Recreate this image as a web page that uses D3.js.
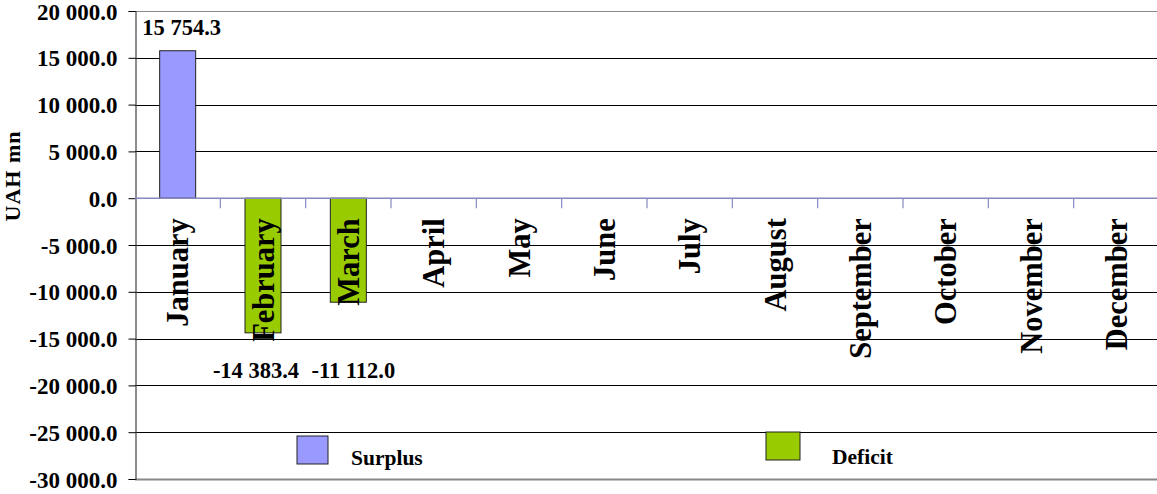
<!DOCTYPE html>
<html>
<head>
<meta charset="utf-8">
<script src="https://cdn.jsdelivr.net/npm/d3@7"></script>
<style>
  html, body { margin: 0; padding: 0; background: #fff; }
  svg { display: block; }
  svg text { font-family: "Liberation Serif", "Times New Roman", "DejaVu Serif", serif !important; font-weight: bold; }
</style>
</head>
<body>
<svg id="chart" width="1157" height="494"></svg>
<script>
const months = ["January","February","March","April","May","June","July","August","September","October","November","December"];
const surplus = [15754.3, null, null, null, null, null, null, null, null, null, null, null];
const deficit = [null, -14383.4, -11112.0, null, null, null, null, null, null, null, null, null];
const yTicks = [20000, 15000, 10000, 5000, 0, -5000, -10000, -15000, -20000, -25000, -30000];
const seriesNames = ["Surplus", "Deficit"];
const seriesColors = ["#9999FF", "#99CC00"];

(function () {
const svg = d3.select("#chart");
const pL = 135, pR = 1159, pT = 11, pB = 479;

const x = d3.scaleBand().domain(months).range([pL, pR]).paddingInner(0).paddingOuter(0);
const y = d3.scaleLinear().domain([-30000, 20000]).range([pB, pT]);

const fmt = v => d3.format(",.1f")(v).replace(/,/g, " ").replace("−", "-");

// gridlines
svg.append("g").selectAll("line").data(yTicks.filter(t => t !== 0))
  .join("line")
  .attr("x1", pL).attr("x2", 1157)
  .attr("y1", d => Math.round(y(d)) + 0.5).attr("y2", d => Math.round(y(d)) + 0.5)
  .attr("stroke", d => (d === 20000 || d === -30000) ? "#888" : "#000")
  .attr("stroke-width", d => d === -30000 ? 2 : 1);

// y axis
const yAxis = d3.axisLeft(y).tickValues(yTicks).tickSize(7).tickFormat(fmt);
const ya = svg.append("g").attr("transform", `translate(${pL + 0.5},0)`).call(yAxis);
ya.select(".domain").attr("stroke", "#444").attr("stroke-width", 1.2);
ya.selectAll(".tick line").attr("stroke", "#000");
ya.selectAll(".tick text").style("font-size", "23px")
  .attr("fill", "#000").attr("x", -18).attr("dy", "0.35em");

// bars
const bw = 36;
const data = [];
months.forEach((m, i) => {
  if (surplus[i] != null) data.push({m, v: surplus[i], s: 0});
  if (deficit[i] != null) data.push({m, v: deficit[i], s: 1});
});
svg.append("g").selectAll("rect").data(data).join("rect")
  .attr("x", d => x(d.m) + x.bandwidth() / 2 - bw / 2)
  .attr("width", bw)
  .attr("y", d => y(Math.max(0, d.v)))
  .attr("height", d => Math.abs(y(d.v) - y(0)))
  .attr("fill", d => seriesColors[d.s])
  .attr("stroke", "#222").attr("stroke-width", 1);

// zero axis line with category ticks
const y0 = y(0);
svg.append("line").attr("x1", pL).attr("x2", 1157).attr("y1", y0).attr("y2", y0)
  .attr("stroke", "#8888c0").attr("stroke-width", 1.5);
svg.append("g").selectAll("line").data(months.slice(1))
  .join("line")
  .attr("x1", d => x(d)).attr("x2", d => x(d))
  .attr("y1", y0).attr("y2", y0 + 10)
  .attr("stroke", "#8888c0").attr("stroke-width", 1.2);

// month labels (rotated)
svg.append("g").selectAll("text").data(months).join("text")
  .attr("transform", d => `translate(${x(d) + x.bandwidth() / 2},${y0 + 20}) rotate(-90)`)
  .attr("text-anchor", "end")
  .attr("dy", "0.35em")
  .style("font-size", "30.5px")
  .attr("fill", "#000")
  .text(d => d);

// data labels (negative labels nudged apart to avoid overlap, as in the original)
const nudge = d => d.v > 0 ? 4 : (d.m === "February" ? -7 : 5);
svg.append("g").selectAll("text").data(data).join("text")
  .attr("x", d => x(d.m) + x.bandwidth() / 2 + nudge(d))
  .attr("y", d => d.v > 0 ? y(d.v) - 16 : y(-20000) - 7)
  .attr("text-anchor", "middle")
  .style("font-size", "22.5px")
  .attr("fill", "#000")
  .text(d => fmt(d.v));

// y axis title
svg.append("text")
  .attr("transform", `translate(20,176) rotate(-90)`)
  .attr("text-anchor", "middle")
  .style("font-size", "22px")
  .attr("letter-spacing", 1)
  .attr("fill", "#000")
  .text("UAH mn");

// legend
const legend = [
  {name: seriesNames[0], color: seriesColors[0], bx: 297, by: 436, w: 31, h: 28, tx: 351, ty: 465},
  {name: seriesNames[1], color: seriesColors[1], bx: 766, by: 432, w: 34, h: 28, tx: 832, ty: 464}
];
const lg = svg.append("g").selectAll("g").data(legend).join("g");
lg.append("rect").attr("x", d => d.bx).attr("y", d => d.by).attr("width", d => d.w).attr("height", d => d.h)
  .attr("fill", d => d.color).attr("stroke", "#222").attr("stroke-width", 1);
lg.append("text").attr("x", d => d.tx).attr("y", d => d.ty).style("font-size", "21.5px").attr("fill", "#000")
  .text(d => d.name);
})();
</script>
</body>
</html>
